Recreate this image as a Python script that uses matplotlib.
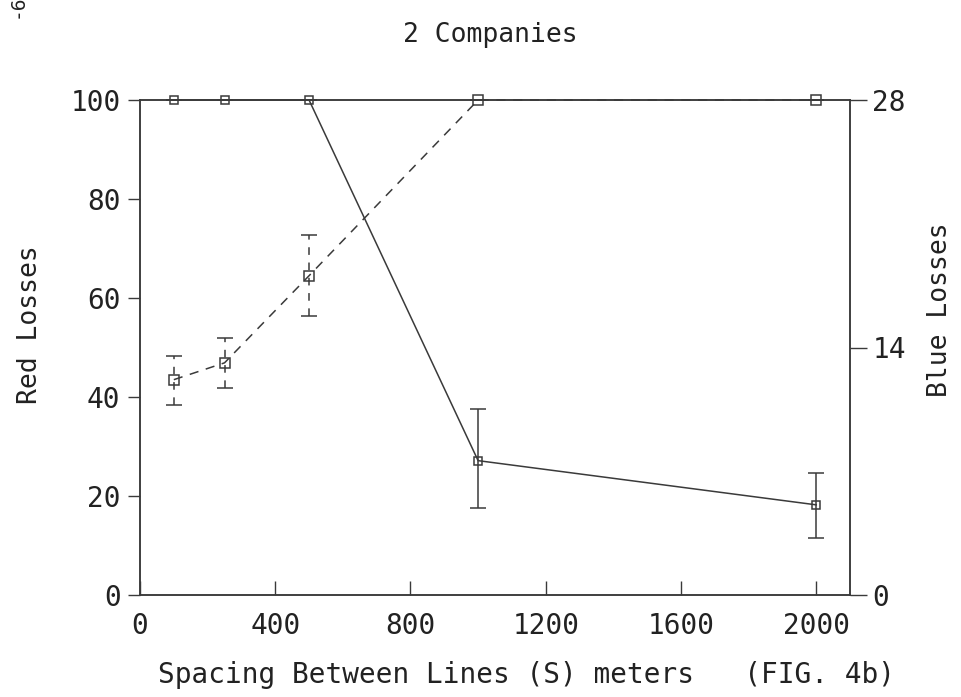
import matplotlib
matplotlib.use('Agg')
import matplotlib.pyplot as plt
import numpy as np

# spacing between lines (m)
spacing = [100, 250, 500, 1000, 2000]

# red losses (left axis) with error bar ends
red = [43.5, 46.9, 64.5, 100, 100]
red_lo = [38.4, 41.9, 56.4, 100, 100]
red_hi = [48.3, 52.0, 72.8, 100, 100]

# blue losses (right axis) with error bar ends
blue = [28, 28, 28, 7.6, 5.1]
blue_lo = [28, 28, 28, 4.9, 3.2]
blue_hi = [28, 28, 28, 10.5, 6.9]

plt.rcParams['font.family'] = 'DejaVu Sans Mono'
ink = '#3a3a3a'
txt = '#222222'

fig = plt.figure(figsize=(9.61, 6.97), dpi=100)
ax = fig.add_axes([140 / 961, 1 - 595 / 697, 710 / 961, 495 / 697])

red_err = [np.array(red) - np.array(red_lo), np.array(red_hi) - np.array(red)]
eb = ax.errorbar(spacing, red, yerr=red_err, fmt='s', ls='--', color=ink, lw=1.1,
                 mfc='none', mec=ink, ms=7, mew=1.1, capsize=6, elinewidth=1.1,
                 dashes=(6, 5), clip_on=False)
eb[2][0].set_linestyle((0, (5, 5)))

ax.set_xlim(0, 2100)
ax.set_ylim(0, 100)
ax.set_xticks([0, 400, 800, 1200, 1600, 2000])
ax.set_yticks([0, 20, 40, 60, 80, 100])
ax.tick_params(axis='y', direction='out', length=9, width=1, color=ink,
               labelsize=20, labelcolor=txt, pad=5)
ax.tick_params(axis='x', direction='in', length=10, width=1, color=ink,
               labelsize=20, labelcolor=txt, pad=12)
for s in ax.spines.values():
    s.set_color(ink)
    s.set_linewidth(1.1)

ax2 = ax.twinx()
blue_err = [np.array(blue) - np.array(blue_lo), np.array(blue_hi) - np.array(blue)]
ax2.errorbar(spacing, blue, yerr=blue_err, fmt='s', ls='-', color=ink, lw=1.1,
             mfc='none', mec=ink, ms=6, mew=1.1, capsize=6, elinewidth=1.1,
             clip_on=False)
ax2.set_ylim(0, 28)
ax2.set_yticks([0, 14, 28])
ax2.tick_params(axis='y', direction='out', length=12, width=1, color=ink,
                labelsize=20, labelcolor=txt, pad=4)
for s in ax2.spines.values():
    s.set_color(ink)
    s.set_linewidth(1.1)

ax.set_xlabel('Spacing Between Lines (S) meters   (FIG. 4b)', fontsize=20, color=txt)
ax.xaxis.set_label_coords((527 - 140) / 710, -(675 - 595) / 495)
ax.xaxis.label.set_va('center')
ax.set_ylabel('Red Losses', fontsize=19, color=txt)
ax.yaxis.set_label_coords((30 - 140) / 710, (595 - 325) / 495)
ax.yaxis.label.set_va('center')
ax2.set_ylabel('Blue Losses', fontsize=19, color=txt, rotation=90)
ax2.yaxis.set_label_coords((940 - 140) / 710, (595 - 310) / 495)
ax2.yaxis.label.set_va('center')

fig.text(490 / 961, 1 - 35 / 697, '2 Companies', fontsize=19, color=txt,
         ha='center', va='center')
fig.text(17 / 961, 1.0, '-6-', fontsize=14, color=txt, rotation=90,
         ha='center', va='center')

fig.savefig('out.png', dpi=100, facecolor='white')
